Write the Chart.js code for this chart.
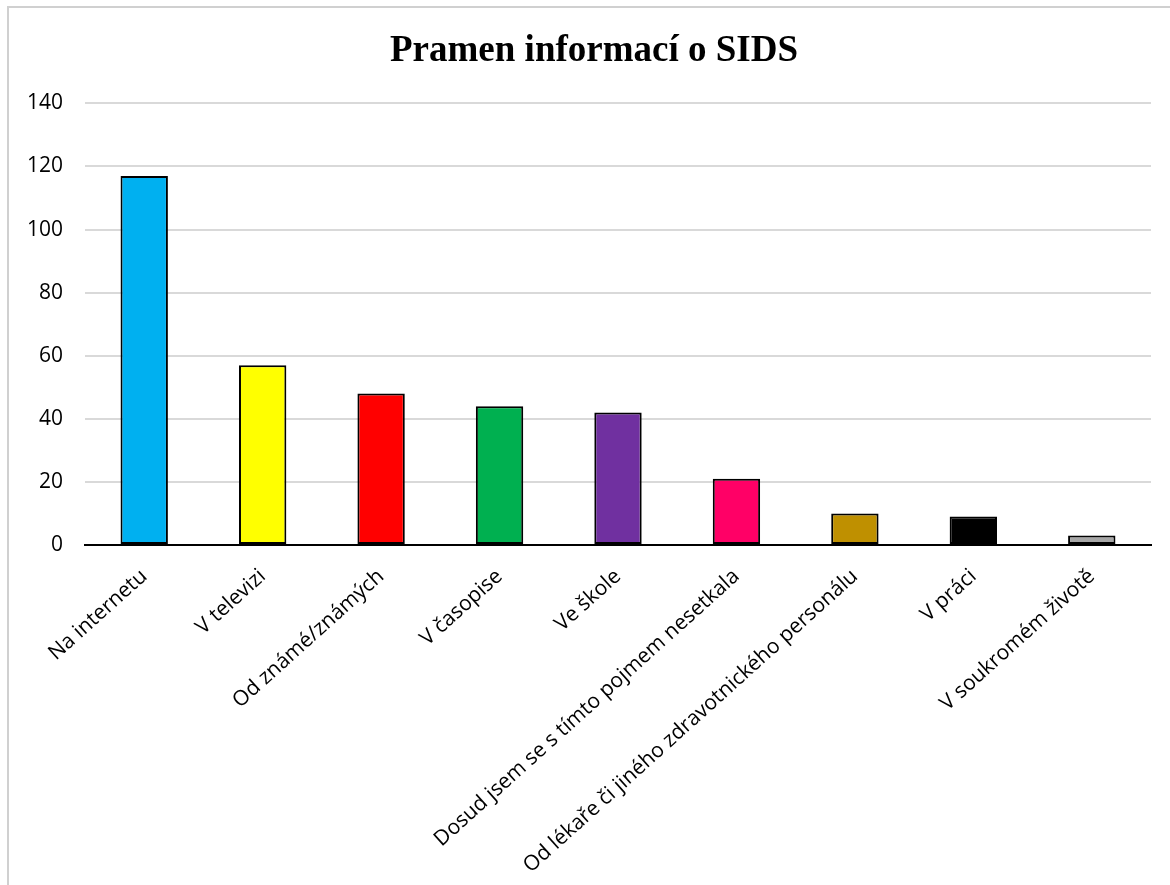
<!DOCTYPE html>
<html>
<head>
<meta charset="utf-8">
<title>Pramen informací o SIDS</title>
<script src="https://cdn.jsdelivr.net/npm/chart.js@4/dist/chart.umd.min.js"></script>
<style>
    html, body { margin: 0; padding: 0; background: #fff; overflow: hidden; }
    #frame {
        position: absolute; left: 7px; top: 6px;
        width: 1200px; height: 920px;
        border: 2px solid #d0d0d0;
    }
    #wrap { position: absolute; left: 0; top: 0; width: 1170px; height: 885px; }
</style>
</head>
<body>
<div id="frame"></div>
<div id="wrap"><canvas id="sids-chart"></canvas></div>
<script>
    "use strict";

    // Survey answers and counts
    var categories = [
        "Na internetu",
        "V televizi",
        "Od známé/známých",
        "V časopise",
        "Ve škole",
        "Dosud jsem se s tímto pojmem nesetkala",
        "Od lékaře či jiného zdravotnického personálu",
        "V práci",
        "V soukromém životě"
    ];
    var counts = [117, 57, 48, 44, 42, 21, 10, 9, 3];
    var barColors = ["#00B0F0", "#FFFF00", "#FF0000", "#00B050", "#7030A0",
                     "#FF0066", "#BF9000", "#000000", "#A6A6A6"];
    var yTicks = [0, 20, 40, 60, 80, 100, 120, 140];

    var labelFont = { family: "'Open Sans', sans-serif", size: 21 };

    // nudge the title box so the heading sits a little right of the canvas middle
    var titleShift = {
        id: "titleShift",
        afterLayout: function (chart) {
            if (chart.titleBlock) {
                chart.titleBlock.left = 37;
            }
        }
    };

    var ctx = document.getElementById("sids-chart").getContext("2d");
    var chart = new Chart(ctx, {
        type: "bar",
        data: {
            labels: categories,
            datasets: [{
                data: counts,
                backgroundColor: barColors,
                borderColor: "#000000",
                borderWidth: 2,
                borderSkipped: false,
                categoryPercentage: 1,
                barPercentage: 0.4
            }]
        },
        plugins: [titleShift],
        options: {
            responsive: true,
            maintainAspectRatio: false,
            animation: false,
            layout: { padding: { left: 0, right: 19, top: 0, bottom: 0 } },
            plugins: {
                legend: { display: false },
                tooltip: { enabled: false },
                title: {
                    display: true,
                    text: "Pramen informací o SIDS",
                    color: "#000000",
                    font: { family: "'Liberation Serif', 'Times New Roman', serif", size: 37, weight: "bold" },
                    padding: { top: 29, bottom: 30 }
                }
            },
            scales: {
                x: {
                    grid: { display: false, drawTicks: false },
                    border: { display: true, color: "#000000", width: 2 },
                    ticks: {
                        color: "#000000",
                        font: labelFont,
                        minRotation: 42,
                        maxRotation: 42,
                        autoSkip: false,
                        padding: 19
                    },
                    afterFit: function (scale) { scale.height = 340; }
                },
                y: {
                    min: 0,
                    max: 140,
                    afterBuildTicks: function (scale) {
                        scale.ticks = yTicks.map(function (v) { return { value: v }; });
                    },
                    grid: { color: "#d9d9d9", lineWidth: 2, drawTicks: false },
                    border: { display: false },
                    ticks: {
                        color: "#000000",
                        font: labelFont,
                        padding: 22
                    },
                    afterFit: function (scale) { scale.width = 85; }
                }
            }
        }
    });
</script>
</body>
</html>
